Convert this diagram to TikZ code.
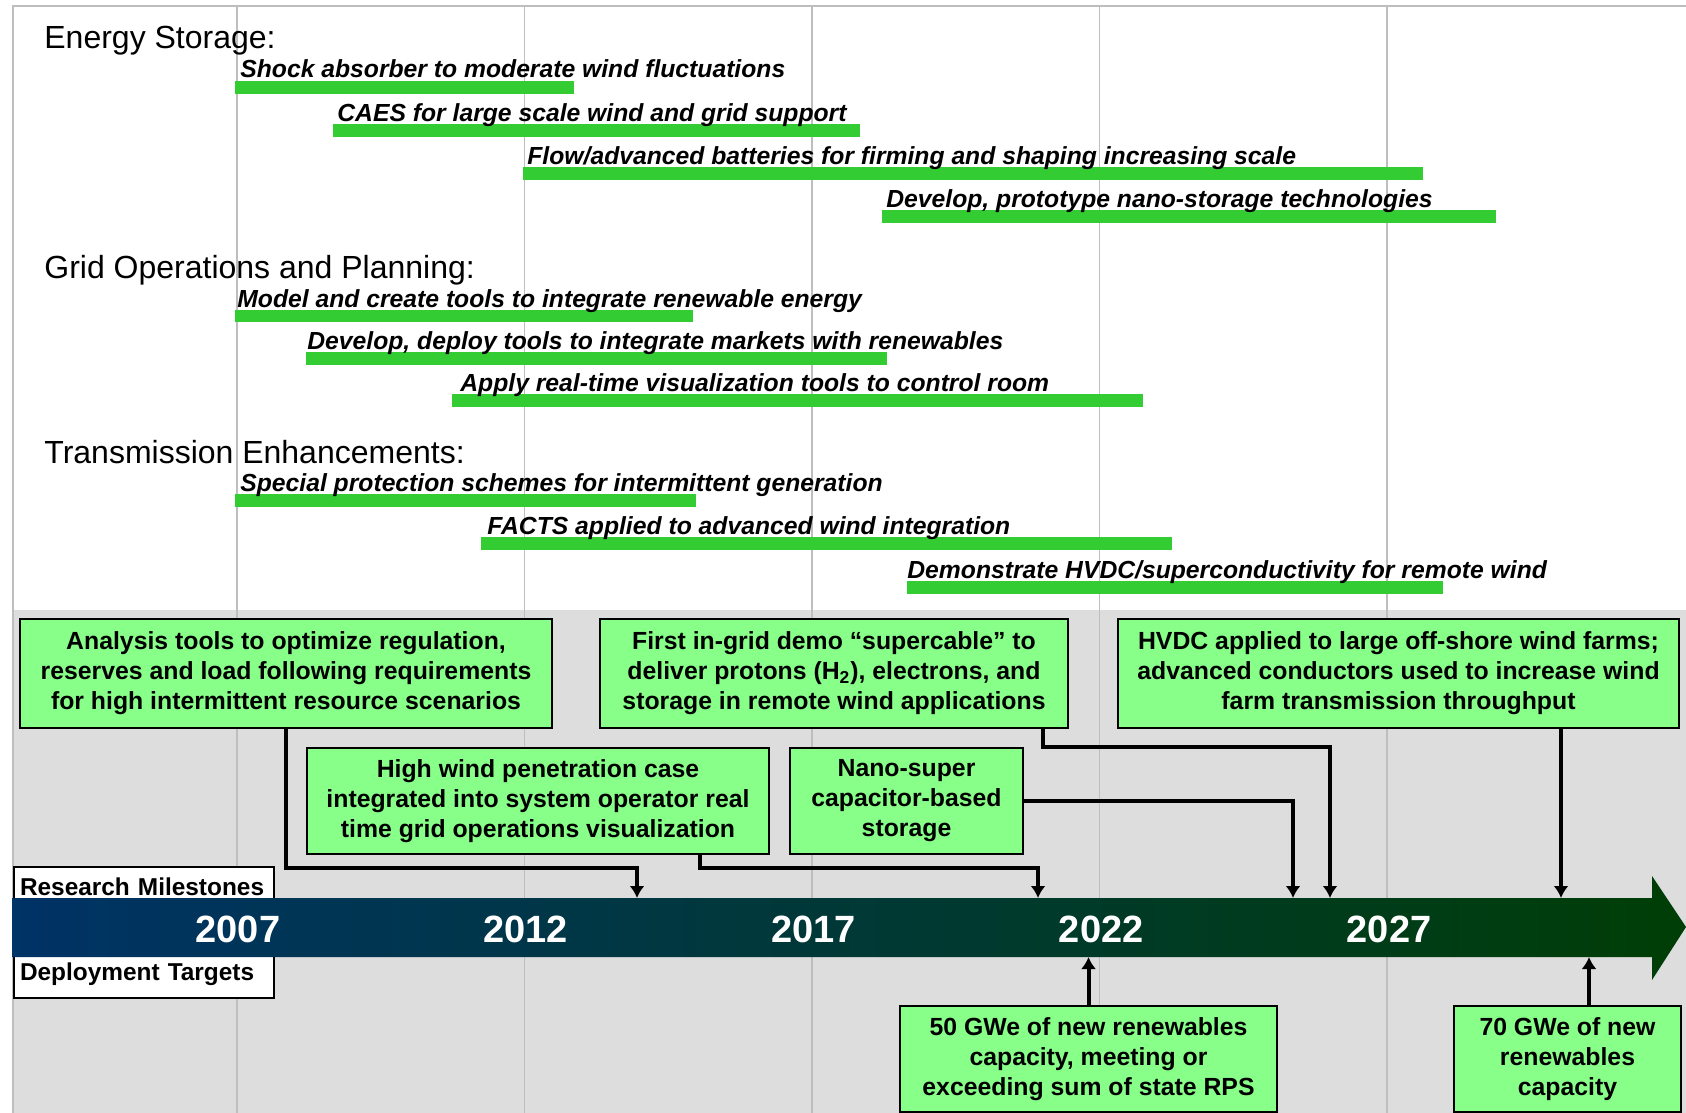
\documentclass[tikz,border=0pt]{standalone}
\usepackage{fontspec}
\setmainfont{Liberation Sans}
\usetikzlibrary{arrows.meta}

\definecolor{bargreen}{RGB}{51,204,51}
\definecolor{boxgreen}{RGB}{136,255,136}
\definecolor{panelgrey}{RGB}{221,221,221}
\definecolor{rulegrey}{RGB}{190,190,190}
\definecolor{lineblue}{RGB}{0,51,102}
\definecolor{linegreen}{RGB}{0,62,6}

\tikzset{
  head/.style={anchor=base west, inner sep=0, font=\fontsize{16}{19}\selectfont},
  task/.style={anchor=base west, inner sep=0, font=\bfseries\itshape\fontsize{12.35}{14}\selectfont},
  bar/.style={fill=bargreen},
  goal/.style={draw, line width=1pt, fill=boxgreen, align=center, anchor=north west,
    inner sep=0, font=\bfseries\fontsize{12.4}{15}\selectfont},
  tag/.style={draw, line width=1pt, fill=white, anchor=north west, inner xsep=3pt,
    text width=124pt, align=left, font=\bfseries\fontsize{12.2}{14}\selectfont},
  year/.style={text=white, inner sep=0, font=\bfseries\fontsize{19}{22}\selectfont},
  link/.style={line width=2pt, -{Latex[length=6pt,width=7.5pt]}},
  gridline/.style={rulegrey, line width=0.8pt},
}

\begin{document}
\begin{tikzpicture}[x=0.5pt, y=-0.5pt]
\useasboundingbox (0,0) rectangle (1686,1113);
\clip (0,0) rectangle (1686,1113);
\fill[white] (0,0) rectangle (1686,1113);
\fill[panelgrey] (13,610) rectangle (1686,1113);
\foreach \i in {0,...,4}
  \draw[gridline] (237+287.5*\i,6) -- (237+287.5*\i,1113);
\draw[gridline] (13,1113) -- (13,6) -- (1686,6);

\node[head] (store) at (44,49) {Energy Storage:};
\fill[bar] (235,81) rectangle (574,94);
\node[task] (shock) at (240,78) {Shock absorber to moderate wind fluctuations};
\fill[bar] (333,124) rectangle (860,137);
\node[task] (caes) at (337,121) {CAES for large scale wind and grid support};
\fill[bar] (523,167) rectangle (1423,180);
\node[task] (flow) at (527,164) {Flow/advanced batteries for firming and shaping increasing scale};
\fill[bar] (882,210) rectangle (1496,223);
\node[task] (nano) at (886,207) {Develop, prototype nano-storage technologies};

\node[head] (grid) at (44,278) {Grid Operations and Planning:};
\fill[bar] (235,310) rectangle (693,322);
\node[task] (model) at (237,307) {Model and create tools to integrate renewable energy};
\fill[bar] (306,352) rectangle (887,365);
\node[task] (market) at (307,349) {Develop, deploy tools to integrate markets with renewables};
\fill[bar] (452,394) rectangle (1143,407);
\node[task] (visual) at (460,391) {Apply real-time visualization tools to control room};

\node[head] (trans) at (44,463) {Transmission Enhancements:};
\fill[bar] (235,494) rectangle (696,507);
\node[task] (protect) at (240,491) {Special protection schemes for intermittent generation};
\fill[bar] (481,537) rectangle (1172,550);
\node[task] (facts) at (487,534) {FACTS applied to advanced wind integration};
\fill[bar] (907,581) rectangle (1443,594);
\node[task] (hvdc) at (907,578) {Demonstrate HVDC/superconductivity for remote wind};

\node[tag, minimum height=20pt] (research) at (13,866) {Research Milestones};
\node[tag, minimum height=23.5pt] (deploy) at (13,950) {Deployment Targets};
\shade[left color=lineblue, right color=linegreen]
  (12,898) -- (1652,898) -- (1652,876) -- (1686,927) -- (1652,980) -- (1652,957) -- (12,957) -- cycle;
\foreach \yr [count=\i from 0] in {2007,2012,2017,2022,2027}
  \node[year] (y\yr) at (238+287.75*\i,929) {\yr};

\coordinate (r1) at (637,898);
\coordinate (r2) at (1038,898);
\coordinate (r3) at (1330,898);
\coordinate (r4) at (1293,898);
\coordinate (r5) at (1561,898);
\coordinate (d1) at (1089,957);
\coordinate (d2) at (1589,957);

\node[goal, minimum width=266pt, minimum height=54.5pt] (A) at (19,618)
  {Analysis tools to optimize regulation,\\reserves and load following requirements\\for high intermittent resource scenarios};
\node[goal, minimum width=234pt, minimum height=54.5pt] (B) at (599,618)
  {First in-grid demo “supercable” to\\deliver protons (H\textsubscript{2}), electrons, and\\storage in remote wind applications};
\node[goal, minimum width=280.5pt, minimum height=54.5pt] (C) at (1117,618)
  {HVDC applied to large off-shore wind farms;\\advanced conductors used to increase wind\\farm transmission throughput};
\node[goal, minimum width=231pt, minimum height=53pt] (D) at (306,747)
  {High wind penetration case\\integrated into system operator real\\time grid operations visualization};
\node[goal, minimum width=116.5pt, minimum height=53pt] (E) at (789,747)
  {Nano-super\\capacitor-based\\storage};
\node[goal, minimum width=188.5pt, minimum height=53pt] (F) at (899,1005)
  {50 GWe of new renewables\\capacity, meeting or\\exceeding sum of state RPS};
\node[goal, minimum width=113.5pt, minimum height=53pt] (G) at (1453,1005)
  {70 GWe of new\\renewables\\capacity};

\draw[link] (A.south) -- ++(0,139) -| (r1);
\draw[link] ([xshift=81pt]D.south) -- ++(0,13) -| (r2);
\draw[link] ([xshift=104.5pt]B.south) -- ++(0,18) -| (r3);
\draw[link] (E.east) -| (r4);
\draw[link] (C.south -| r5) -- (r5);
\draw[link] (F.north) -- (F.north |- d1);
\draw[link] (G.north -| d2) -- (d2);
\end{tikzpicture}
\end{document}
